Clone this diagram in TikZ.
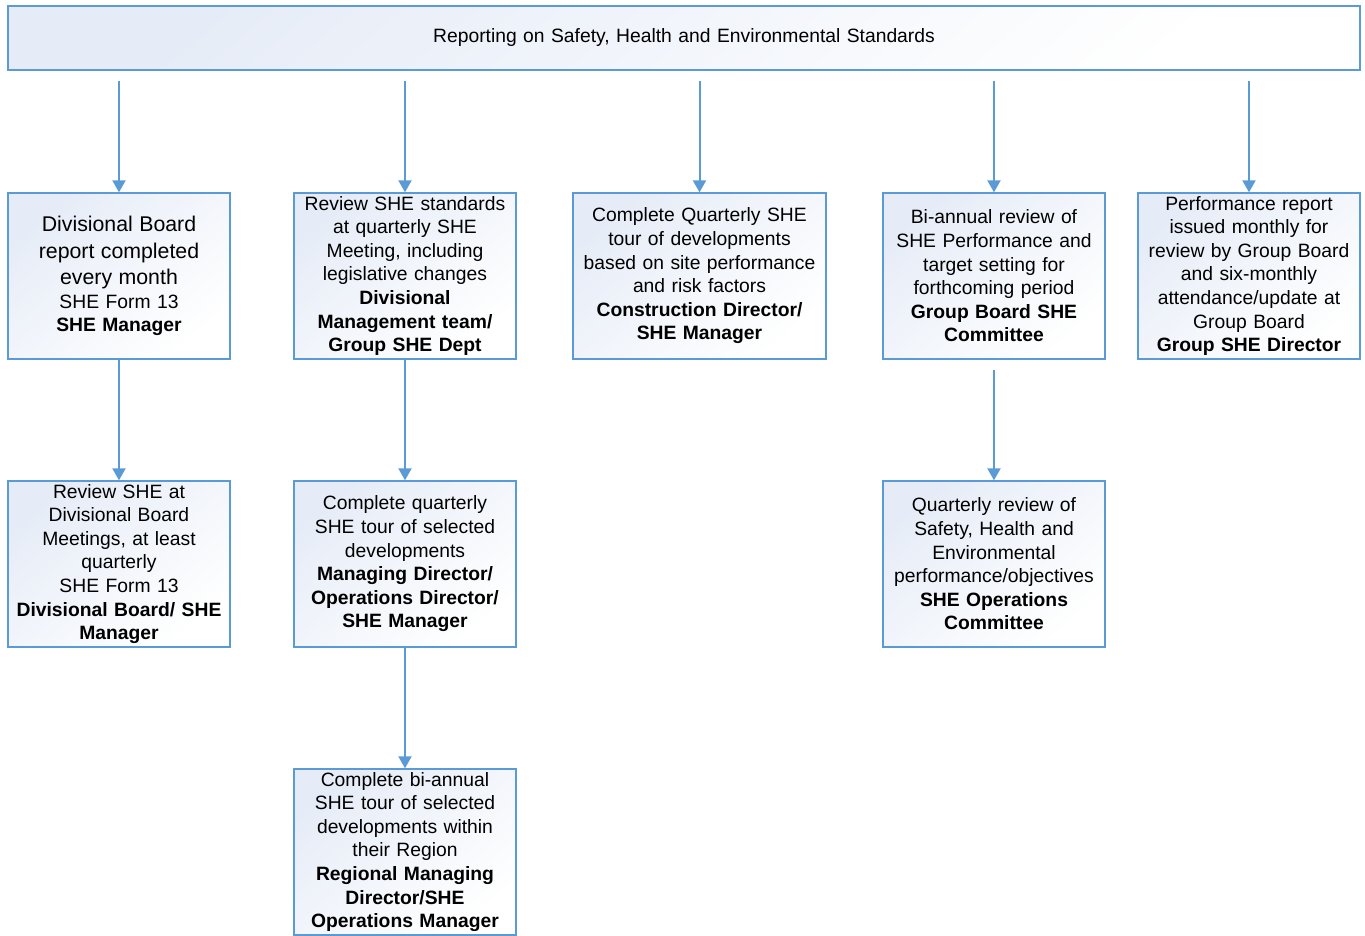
\documentclass[tikz,border=0pt]{standalone}
\usepackage{fontspec}
\setmainfont{Liberation Sans}
\usetikzlibrary{arrows.meta}
\definecolor{edgeblue}{HTML}{5B9BD5}
\definecolor{boxtop}{HTML}{E6ECF7}
\tikzset{
  box/.style={draw=edgeblue, line width=1.3pt, top color=boxtop, bottom color=white, shading angle=40,
    minimum width=222pt, minimum height=166pt, text width=218pt, align=center, inner sep=0pt,
    font=\fontsize{19.3}{23.6}\selectfont},
  conn/.style={draw=edgeblue, line width=2pt, -{Triangle[width=13pt,length=12pt]}},
}
\begin{document}
\begin{tikzpicture}[x=1pt,y=1pt]
\useasboundingbox (0,0) rectangle (1365,-936);
\node[box, minimum width=1352pt, minimum height=64pt, text width=1340pt] (top) at (684,-38) {Reporting on Safety, Health and Environmental Standards};

\node[box] (A) at (119,-276) {{\fontsize{21.3}{26.5}\selectfont Divisional Board\\ report completed\\ every month\\}SHE Form 13\\ \textbf{SHE Manager}};
\node[box] (B) at (405,-276) {Review SHE standards\\ at quarterly SHE\\ Meeting, including\\ legislative changes\\ \textbf{Divisional}\\ \textbf{Management team/}\\ \textbf{Group SHE Dept}};
\node[box, minimum width=253pt, text width=245pt] (C) at (699.5,-276) {Complete Quarterly SHE\\ tour of developments\\ based on site performance\\ and risk factors\\ \textbf{Construction Director/}\\ \textbf{SHE Manager}};
\node[box] (D) at (994,-276) {Bi-annual review of\\ SHE Performance and\\ target setting for\\ forthcoming period\\ \textbf{Group Board SHE}\\ \textbf{Committee}};
\node[box] (E) at (1249,-276) {Performance report\\ issued monthly for\\ review by Group Board\\ and six-monthly\\ attendance/update at\\ Group Board\\ \textbf{Group SHE Director}};

\node[box] (A2) at (119,-564) {Review SHE at\\ Divisional Board\\ Meetings, at least\\ quarterly\\ SHE Form 13\\ \textbf{Divisional Board/ SHE}\\ \textbf{Manager}};
\node[box] (B2) at (405,-564) {Complete quarterly\\ SHE tour of selected\\ developments\\ \textbf{Managing Director/}\\ \textbf{Operations Director/}\\ \textbf{SHE Manager}};
\node[box] (D2) at (994,-564) {Quarterly review of\\ Safety, Health and\\ Environmental\\ performance/objectives\\ \textbf{SHE Operations}\\ \textbf{Committee}};

\node[box] (B3) at (405,-852) {Complete bi-annual\\ SHE tour of selected\\ developments within\\ their Region\\ \textbf{Regional Managing}\\ \textbf{Director/SHE}\\ \textbf{Operations Manager}};

\coordinate (sA) at (119,-81);
\coordinate (sB) at (405,-81);
\coordinate (sC) at (699.5,-81);
\coordinate (sD) at (994,-81);
\coordinate (sE) at (1249,-81);
\coordinate (sD2) at (994,-370);

\draw[conn] (sA) -- (A.north);
\draw[conn] (sB) -- (B.north);
\draw[conn] (sC) -- (C.north);
\draw[conn] (sD) -- (D.north);
\draw[conn] (sE) -- (E.north);
\draw[conn] (A.south) -- (A2.north);
\draw[conn] (B.south) -- (B2.north);
\draw[conn] (B2.south) -- (B3.north);
\draw[conn] (sD2) -- (D2.north);
\end{tikzpicture}
\end{document}
